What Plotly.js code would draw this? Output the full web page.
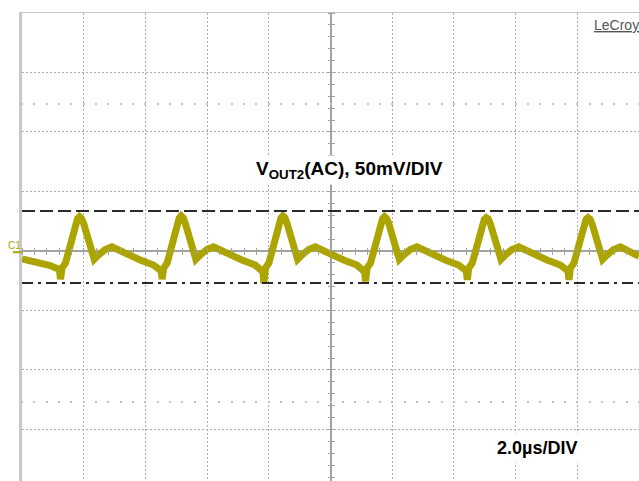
<!DOCTYPE html>
<html>
<head>
<meta charset="utf-8">
<script src="https://cdn.plot.ly/plotly-3.0.1.min.js"></script>
<style>html,body{margin:0;padding:0;background:#fff;}#chart{width:639px;height:481px;}</style>
</head>
<body>
<div id="chart"></div>
<script>
// Oscilloscope capture: VOUT2 (AC coupled), 50 mV/div, 2.0 us/div
const timeUs = [
  -10.0, -9.734, -9.410, -9.086, -8.826,
  -8.784, -8.752, -8.703, -8.590, -8.428, -8.266, -8.201, -8.136, -8.071, -8.006, -7.844, -7.660, -7.520, -7.303, -7.086, -6.872, -6.600, -6.168, -5.737,
  -5.488, -5.456, -5.407, -5.294, -5.132, -4.970, -4.905, -4.840, -4.775, -4.710, -4.548, -4.364, -4.224, -4.007, -3.790, -3.576, -3.304, -2.872, -2.441,
  -2.191, -2.159, -2.110, -1.997, -1.835, -1.673, -1.608, -1.543, -1.478, -1.413, -1.251, -1.067, -0.927, -0.710, -0.493, -0.279, -0.007, 0.425, 0.856,
  1.105, 1.137, 1.186, 1.299, 1.461, 1.623, 1.688, 1.753, 1.818, 1.883, 2.045, 2.229, 2.369, 2.586, 2.803, 3.017, 3.289, 3.721, 4.152,
  4.402, 4.434, 4.483, 4.596, 4.758, 4.920, 4.985, 5.050, 5.115, 5.180, 5.342, 5.526, 5.666, 5.883, 6.100, 6.314, 6.586, 7.018, 7.449,
  7.698, 7.730, 7.779, 7.892, 8.054, 8.216, 8.281, 8.346, 8.411, 8.476, 8.638, 8.822, 8.962, 9.179, 9.396, 9.610, 9.882, 10.0
];
const voutMv = [
  -6.7, -8.0, -10.1, -12.2, -15.1,
  -16.8, -23.7, -14.3, -10.1, 6.7, 21.8, 27.0, 28.8, 27.3, 23.5, 6.7, -7.0, -3.4, 1.3, 3.5, 0.8, -3.4, -7.6, -11.8,
  -16.8, -23.7, -14.3, -10.1, 6.7, 21.8, 27.5, 29.5, 28.0, 23.5, 6.7, -7.0, -3.4, 1.3, 3.5, 0.8, -3.4, -7.6, -11.8,
  -17.5, -27.1, -14.3, -10.1, 6.7, 21.8, 27.5, 29.5, 28.0, 23.5, 6.7, -7.0, -3.4, 1.3, 3.5, 0.8, -3.4, -7.6, -11.8,
  -17.5, -25.6, -14.3, -10.1, 6.7, 21.8, 27.0, 28.8, 27.3, 23.5, 6.7, -7.0, -3.4, 1.3, 3.5, 0.8, -3.4, -7.6, -11.8,
  -16.8, -24.2, -14.3, -10.1, 6.7, 21.8, 26.5, 28.0, 26.8, 23.0, 6.7, -7.0, -3.4, 1.3, 3.5, 0.8, -3.4, -7.6, -11.8,
  -16.8, -24.2, -14.3, -10.1, 6.7, 21.8, 26.5, 28.0, 26.8, 23.0, 6.7, -7.0, -3.4, 1.3, 3.5, 0.8, -3.4, -4.5
];
const cursorLevelsMv = [33.6, -26.9];        // dashed / dash-dot cursors
const xRangeUs = [-10, 10];
const yRangeMv = [-193.3, 200];
const titleText = 'V<sub>OUT2</sub>(AC), 50mV/DIV';
const timebaseText = '2.0µs/DIV';
const brandText = 'LeCroy';
const channelLabel = 'C1';

const traceColor = '#aca400';
const gridDash = '2px,2px';
const gridColor = '#ababab';
const centerColor = '#a2a2a2';

function dummy(xa, ya) {
  return {x:[0], y:[0], xaxis:xa, yaxis:ya, mode:'markers', marker:{opacity:0, size:1}, hoverinfo:'skip', showlegend:false};
}

const data = [
  {x: timeUs, y: voutMv, type:'scatter', mode:'lines', line:{color:traceColor, width:7, shape:'linear'}, hoverinfo:'skip', showlegend:false},
  dummy('x2','y'), dummy('x3','y'), dummy('x4','y'), dummy('x5','y'), dummy('x','y2'), dummy('x','y3')
];

const yZeroFrac = (0 - yRangeMv[0]) / (yRangeMv[1] - yRangeMv[0]);
const yPlusFrac = (125 - yRangeMv[0]) / (yRangeMv[1] - yRangeMv[0]);
const yMinusFrac = (-125 - yRangeMv[0]) / (yRangeMv[1] - yRangeMv[0]);

const freeX = (pos, side, len, w, col) => ({
  overlaying:'x', anchor:'free', position:pos, side:side, range:xRangeUs, tick0:0, dtick:0.4,
  ticks:'outside', ticklen:len, tickwidth:w, tickcolor:col, showticklabels:false,
  showgrid:false, zeroline:false, showline:false, fixedrange:true
});
const freeY = (side) => ({
  overlaying:'y', anchor:'free', position:0.5, side:side, range:yRangeMv, tick0:0, dtick:10,
  ticks:'outside', ticklen:3, tickwidth:1, tickcolor:centerColor, showticklabels:false,
  showgrid:false, zeroline:false, showline:false, fixedrange:true
});

const layout = {
  width:639, height:481,
  margin:{l:22, r:0, t:13, b:0, pad:0},
  paper_bgcolor:'#ffffff', plot_bgcolor:'#ffffff',
  showlegend:false,
  xaxis:{range:xRangeUs, tick0:0, dtick:2, showgrid:true, gridcolor:gridColor, griddash:gridDash, gridwidth:1,
         zeroline:true, zerolinecolor:centerColor, zerolinewidth:2, showticklabels:false, ticks:'',
         side:'top', showline:true, linecolor:'#c4c4c4', linewidth:1, fixedrange:true},
  yaxis:{range:yRangeMv, tick0:0, dtick:50, showgrid:true, gridcolor:gridColor, griddash:gridDash, gridwidth:1,
         zeroline:true, zerolinecolor:centerColor, zerolinewidth:2, showticklabels:false, ticks:'',
         showline:true, linecolor:'#c8c8c8', linewidth:3, fixedrange:true},
  xaxis2: freeX(yZeroFrac, 'bottom', 3, 1, centerColor),
  xaxis3: freeX(yZeroFrac, 'top', 3, 1, centerColor),
  xaxis4: freeX(yPlusFrac, 'bottom', 2, 2, '#c2c2c2'),
  xaxis5: freeX(yMinusFrac, 'bottom', 2, 2, '#c2c2c2'),
  yaxis2: freeY('left'),
  yaxis3: freeY('right'),
  shapes:[
    {type:'line', xref:'paper', yref:'y', x0:0, x1:1, y0:cursorLevelsMv[0], y1:cursorLevelsMv[0],
     line:{color:'#2a2a2a', width:2, dash:'13px,5px'}},
    {type:'line', xref:'paper', yref:'y', x0:0, x1:1, y0:cursorLevelsMv[1], y1:cursorLevelsMv[1],
     line:{color:'#2a2a2a', width:2, dash:'11px,5px,3px,5px'}},
    {type:'line', xref:'paper', yref:'y', x0:-0.0146, x1:0, y0:-1, y1:-1,
     line:{color:traceColor, width:2}}
  ],
  annotations:[
    {text:'<b>'+titleText+'</b>', xref:'paper', yref:'paper', x:0.5316, y:(481-170)/468, xanchor:'center', yanchor:'middle',
     showarrow:false, font:{family:'Liberation Sans, Arial, sans-serif', size:19, color:'#000'}, bgcolor:'#ffffff', borderpad:2},
    {text:'<b>'+timebaseText+'</b>', xref:'paper', yref:'paper', x:0.834, y:(481-448)/468, xanchor:'center', yanchor:'middle',
     showarrow:false, font:{family:'Liberation Sans, Arial, sans-serif', size:18, color:'#000'}, bgcolor:'#ffffff', borderpad:4},
    {text:'<u>'+brandText+'</u>', xref:'paper', yref:'paper', x:(616-22)/617, y:(481-25)/468, xanchor:'center', yanchor:'middle',
     showarrow:false, font:{family:'Liberation Sans, Arial, sans-serif', size:14, color:'#555'}},
    {text:channelLabel, xref:'paper', yref:'paper', x:(14.5-22)/617, y:(481-245)/468, xanchor:'center', yanchor:'middle',
     showarrow:false, font:{family:'Liberation Sans, Arial, sans-serif', size:10, color:traceColor}}
  ]
};

Plotly.newPlot('chart', data, layout, {staticPlot:true, displayModeBar:false});
</script>
</body>
</html>
